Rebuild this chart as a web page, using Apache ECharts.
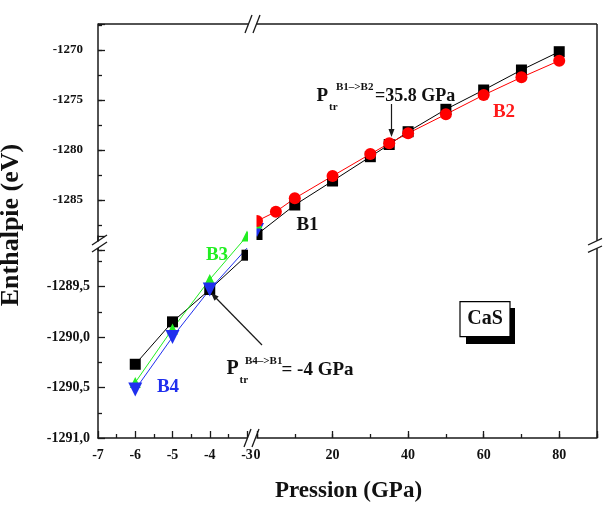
<!DOCTYPE html>
<html>
<head>
<meta charset="utf-8">
<script src="https://cdn.jsdelivr.net/npm/echarts@6.0.0/dist/echarts.min.js"></script>
<style>
  html, body { margin: 0; padding: 0; background: #fff; }
  #chart { width: 603px; height: 514px; }
</style>
</head>
<body>
<div id="chart"></div>
<script>
const FONT = '"Liberation Serif", "Times New Roman", serif';
const INK = '#1a1a1a';

// left part of the x break (GPa), lower part of the y break (eV)
const pLow = [-6, -5, -4, -3];
const b1Low = [-1290.27, -1289.85, -1289.53, -1289.19];
const b3Low = [-1290.45, -1289.92, -1289.43, -1289.0];
const b4Low = [-1290.52, -1290.0, -1289.53, -1289.12];

// right part of the x break, upper part of the y break
const pB1 = [0, 10, 20, 30, 35, 40, 50, 60, 70, 80];
const b1High = [-1288.45, -1285.5, -1283.1, -1280.67, -1279.45, -1278.17, -1275.93, -1274.0, -1272.0, -1270.17];
const pB2 = [0, 5, 10, 20, 30, 35, 40, 50, 60, 70, 80];
const b2High = [-1287.1, -1286.17, -1284.83, -1282.6, -1280.4, -1279.33, -1278.33, -1276.43, -1274.5, -1272.73, -1271.07];
const pZero = [0];
const b3High = [-1287.3];
const b4High = [-1288.0];

// tick labels
const xLowTicks = [-7, -6, -5, -4, -3];
const xHighTicks = [0, 20, 40, 60, 80];
const yLowTicks = [-1291, -1290.5, -1290, -1289.5];
const yHighTicks = [-1285, -1280, -1275, -1270];

const pairs = (xs, ys) => xs.map((x, i) => [x, ys[i]]);

const labelStyle = { fontFamily: FONT, fontWeight: 'bold', fontSize: 14, color: '#111' };
const lineStyle = { color: INK, width: 1.5 };
const tickStyle = { color: INK, width: 1.3 };

// the four panels of the broken axes
const LOW_LEFT = { left: 98, top: 236, width: 149, height: 202 };
const HIGH_RIGHT = { left: 257, top: 24, width: 340, height: 226 };
const HIGH_LEFT = { left: 98, top: 24, width: 149, height: 226 };
const LOW_RIGHT = { left: 257, top: 236, width: 340, height: 202 };

function hiddenAxis(gridIndex, min, max) {
  return { gridIndex, type: 'value', min, max, show: false, splitLine: { show: false } };
}
function seg(x1, y1, x2, y2, w) {
  return { type: 'line', z: 100, shape: { x1, y1, x2, y2 }, style: { stroke: INK, lineWidth: w || 1.5 } };
}
function txt(x, y, text, size, color, align) {
  return {
    type: 'text', z: 100, x, y,
    style: { text, font: `bold ${size}px ${FONT}`, fill: color || '#111', align: align || 'left', verticalAlign: 'middle' },
  };
}
function lineSeries(name, data, color, symbol, size, axisIndex, extra) {
  return Object.assign({
    name, type: 'line', data, xAxisIndex: axisIndex, yAxisIndex: axisIndex,
    symbol, symbolSize: size, clip: false, animation: false,
    lineStyle: { color, width: 1 },
    itemStyle: { color, borderWidth: 0 },
  }, extra || {});
}

const b4LowData = pairs(pLow, b4Low).map((v, i) => (i === 3 ? { value: v, symbolSize: 0 } : v));

const chart = echarts.init(document.getElementById('chart'), null, { renderer: 'canvas' });
chart.setOption({
  animation: false,
  backgroundColor: '#fff',
  grid: [LOW_LEFT, HIGH_RIGHT, HIGH_LEFT, HIGH_LEFT, LOW_RIGHT, LOW_RIGHT]
    .map((g) => Object.assign({ outerBoundsMode: 'none', containLabel: false }, g)),
  xAxis: [
    {
      gridIndex: 0, type: 'value', min: -7, max: -3, interval: 1, position: 'bottom',
      axisLine: { show: true, onZero: false, lineStyle },
      axisTick: { show: true, inside: true, length: 7, lineStyle: tickStyle },
      minorTick: { show: true, splitNumber: 2, length: 4, lineStyle: tickStyle },
      axisLabel: Object.assign({ margin: 10, customValues: xLowTicks }, labelStyle),
      splitLine: { show: false },
    },
    hiddenAxis(1, 0, 90),
    hiddenAxis(2, -7, -3),
    hiddenAxis(3, -7, -3),
    {
      gridIndex: 4, type: 'value', min: 0, max: 90, interval: 20, position: 'bottom',
      axisLine: { show: true, onZero: false, lineStyle },
      axisTick: { show: true, inside: true, length: 7, lineStyle: tickStyle },
      axisLabel: Object.assign({ margin: 10, customValues: xHighTicks, formatter: (v) => String(v) }, labelStyle),
      splitLine: { show: false },
    },
    {
      gridIndex: 5, type: 'value', min: 0, max: 90, interval: 10, position: 'bottom',
      axisLine: { show: false },
      axisTick: { show: true, inside: true, length: 4, lineStyle: tickStyle },
      axisLabel: { show: false },
      splitLine: { show: false },
    },
  ],
  yAxis: [
    {
      gridIndex: 0, type: 'value', min: -1291, max: -1289, interval: 0.5, position: 'left',
      axisLine: { show: true, onZero: false, lineStyle },
      axisTick: { show: true, inside: true, length: 7, lineStyle: tickStyle },
      minorTick: { show: true, splitNumber: 2, length: 4, lineStyle: tickStyle },
      axisLabel: Object.assign({
        margin: 8, customValues: yLowTicks,
        formatter: (v) => v.toFixed(1).replace('.', ','),
      }, labelStyle),
      splitLine: { show: false },
    },
    hiddenAxis(1, -1290, -1267.4),
    {
      gridIndex: 2, type: 'value', min: -1290, max: -1267.4, interval: 5, position: 'left',
      axisLine: { show: true, onZero: false, lineStyle },
      axisTick: { show: true, inside: true, length: 7, lineStyle: tickStyle },
      axisLabel: Object.assign({ margin: 15, customValues: yHighTicks, formatter: (v) => String(v) }, labelStyle, { fontSize: 13 }),
      splitLine: { show: false },
    },
    {
      gridIndex: 3, type: 'value', min: -1290, max: -1267.4, interval: 2.5, position: 'left',
      axisLine: { show: false },
      axisTick: { show: true, inside: true, length: 4, lineStyle: tickStyle },
      axisLabel: { show: false },
      splitLine: { show: false },
    },
    hiddenAxis(4, -1291, -1289),
    hiddenAxis(5, -1291, -1289),
  ],
  series: [
    lineSeries('B1', pairs(pLow, b1Low), '#000', 'rect', 11, 0),
    lineSeries('B3', pairs(pLow, b3Low), '#22ee22', 'triangle', 11, 0),
    lineSeries('B4', b4LowData, '#1f2fee', 'triangle', 14, 0, { symbolRotate: 180 }),
    lineSeries('B1', pairs(pB1, b1High), '#000', 'rect', 11, 1),
    lineSeries('B4', pairs(pZero, b4High), '#1f2fee', 'triangle', 14, 1, { symbolRotate: 180 }),
    lineSeries('B3', pairs(pZero, b3High), '#22ee22', 'triangle', 11, 1),
    lineSeries('B2', pairs(pB2, b2High), '#ff0000', 'circle', 12, 1),
  ],
  graphic: [
    // markers are cut at the break
    { type: 'rect', z: 99, shape: { x: 248, y: 200, width: 8.5, height: 70 }, style: { fill: '#fff' } },
    // frame: top and right
    seg(98, 24, 248.5, 24), seg(256.5, 24, 597, 24),
    seg(597, 24, 597, 240.7), seg(597, 248.3, 597, 438),
    // left axis gap
    { type: 'rect', z: 99, shape: { x: 95, y: 241.5, width: 6, height: 6.5 }, style: { fill: '#fff' } },
    // break marks
    seg(245, 33, 252, 15, 1.3), seg(253, 33, 260, 15, 1.3),
    seg(244, 447, 251, 429, 1.3), seg(252, 447, 259, 429, 1.3),
    seg(92, 252, 107, 242, 1.3), seg(92, 245, 107, 235, 1.3),
    seg(588, 252.3, 602, 246, 1.3), seg(588, 245, 602, 238.3, 1.3),
    // axis titles
    txt(348.5, 491, 'Pression (GPa)', 23, '#111', 'center'),
    Object.assign(txt(11, 225, 'Enthalpie (eV)', 26, '#111', 'center'), { rotation: Math.PI / 2 }),
    // phase labels
    txt(307.5, 225, 'B1', 19, '#111', 'center'),
    txt(504, 112, 'B2', 19, '#ff1a1a', 'center'),
    txt(217, 255, 'B3', 19, '#22ee22', 'center'),
    txt(168, 387.5, 'B4', 19, '#1f2fee', 'center'),
    // transition B1 -> B2
    txt(316.5, 96, 'P', 19),
    txt(329, 107, 'tr', 11),
    txt(336, 87.5, 'B1–>B2', 11),
    txt(375, 96, '=35.8 GPa', 18),
    seg(391.5, 104, 391.5, 130, 1.2),
    { type: 'polygon', z: 100, shape: { points: [[388.5, 129], [394.5, 129], [391.5, 137]] }, style: { fill: INK } },
    // transition B4 -> B1
    txt(226.5, 369, 'P', 20),
    txt(239.5, 380, 'tr', 11),
    txt(245, 361, 'B4–>B1', 11),
    txt(281.5, 370, '= -4 GPa', 19),
    seg(262, 345, 215, 297, 1.2),
    { type: 'polygon', z: 100, shape: { points: [[218.7, 296.6], [214.5, 300.8], [211, 293]] }, style: { fill: INK } },
    // compound box
    { type: 'rect', z: 100, shape: { x: 466, y: 308, width: 49, height: 36 }, style: { fill: '#000' } },
    { type: 'rect', z: 100, shape: { x: 460, y: 301.7, width: 50, height: 35 }, style: { fill: '#fff', stroke: '#000', lineWidth: 1.2 } },
    txt(485, 319, 'CaS', 20, '#111', 'center'),
  ],
});
</script>
</body>
</html>
